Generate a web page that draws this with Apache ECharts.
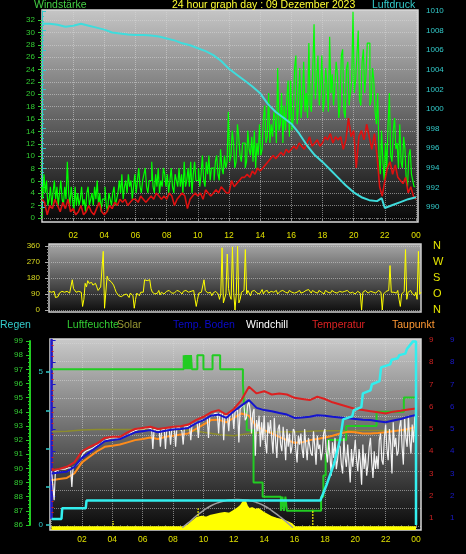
<!DOCTYPE html>
<html><head><meta charset="utf-8">
<script src="https://cdn.jsdelivr.net/npm/echarts@6/dist/echarts.min.js"></script>
<style>html,body{margin:0;padding:0;background:#000}#c{width:466px;height:554px}</style>
</head><body><div id="c"></div>
<script>
// ---------- tick labels ----------
const timeTickLabels = ['', '02','04','06','08','10','12','14','16','18','20','22','00'];
const dirLabels = ['N','O','S','W','N'];

// ---------- top panel ----------
// wind gust, 5-min steps
const windGust = [
 5,3,7,4,6,2,3,5,2,4,6,3,  5,2,4,6,3,2,5,3,9,4,2,5,  3,1,5,2,4,2,3,5,2,3,1,4,  5,2,3,4,2,5,3,6,2,4,1,3,
 3,5,2,1,4,3,2,4,5,2,3,4,  6,4,7,3,5,6,4,7,5,6,3,5,  7,4,6,8,5,4,6,7,8,5,4,6,  6,9,5,4,7,5,8,4,6,5,8,7,
 5,7,4,6,8,5,4,7,6,5,8,5,  7,4,9,5,6,8,5,9,4,7,9,6,  6,8,5,7,10,6,5,9,7,10,6,8,  8,6,9,10,7,6,11,8,7,10,8,9,
 17,9,10,14,12,8,9,15,13,10,9,12,  12,8,9,14,11,10,13,9,14,8,12,10,  15,10,11,16,18,12,13,20,12,15,13,17,  16,12,24,14,15,20,12,18,14,19,22,13,
 22,14,16,24,26,15,18,24,16,19,25,17,  20,16,28,18,17,24,31,19,22,26,18,21,  26,17,19,24,21,17,29,20,23,18,21,25,  23,16,18,26,27,17,16,24,25,18,20,22,
 33,20,22,26,30,19,18,25,27,20,23,28,  28,18,19,24,22,17,15,20,10,7,14,9,  6,12,8,15,20,10,9,14,16,11,12,8,  15,9,8,13,11,6,5,10,11,7,6,5,  5];
// wind average, 10-min steps
const windAvg = [
 3,2.5,0.5,2,1.5,3, 2,1,2.5,1.5,3,1, 1.5,0.5,1,2,0.5,1, 2,1,0.5,1.5,2.5,1, 0.5,1,2,1.5,2.5,2, 3,2.5,3,2,2.5,3,
 3,2.5,3.5,3,2.5,3, 3.5,3,4,3.5,3,3.5, 3,4,3.5,2,3,3.5, 4,3.5,1.5,3,3.5,4, 3.5,4,3,4.5,4,3.5, 4,4.5,4,5,4.5,4,
 4,6,5,5.5,6,6.5, 6.5,7,6.5,7.5,7,8, 7.5,8,8.5,9,9.5,10, 9.5,10,10.5,10,11,10.5, 11,11.5,11,12,11.5,11, 12,13,11.5,12,12.5,11.5,
 12,13,12.5,13.5,12,13, 12.5,13,11,12.5,16,13, 14,8,13,14,12.5,15, 13,11,13.5,10,5,3.5, 6,8,9,7,8.5,6.5, 6,5.5,6.5,4,5,3.5, 3];
const pressTimes = [0,0.5,1,1.5,2,2.5,3,3.5,4,4.5,5,5.5,6,6.5,7,7.5,8,8.5,9,9.5,10,10.5,11,11.5,12,12.5,13,13.5,14,14.5,15,15.5,16,16.5,17,17.5,18,18.5,19,19.5,20,20.5,21,21.5,21.8,22,22.5,23,23.5,24];
const pressValues = [1008.7,1008.7,1008.6,1008.4,1008.5,1008.7,1008.5,1008.3,1008.1,1007.8,1007.7,1007.6,1007.55,1007.55,1007.5,1007.4,1007.2,1007.0,1006.7,1006.5,1006.2,1005.9,1005.5,1004.9,1004.1,1003.5,1002.9,1002.3,1001.6,1000.5,999.7,999.1,998.5,997.5,996.3,995.3,994.6,993.8,993.0,992.2,991.5,991.0,990.7,990.6,990.9,989.9,990.2,990.5,990.8,991.0];

// ---------- middle panel: wind direction, 5-min steps ----------
const windDir = [
 105,110,100,95,105,70,60,75,95,100,105,110,  100,95,105,110,95,100,170,120,110,100,95,105,  95,100,20,60,150,130,165,150,160,155,140,150,  150,130,110,120,130,140,330,10,5,190,170,160,
 160,150,140,120,100,95,80,90,75,70,85,95,  90,85,70,95,85,80,10,60,95,85,80,100,  90,100,170,165,165,170,170,120,100,95,90,100,  95,110,85,100,100,90,90,105,95,110,100,95,
 105,95,90,110,100,105,95,90,105,115,110,100,  100,110,105,95,110,100,20,60,95,105,100,95,  170,110,105,95,90,100,80,95,95,105,100,90,  60,90,350,40,30,90,315,120,80,60,355,100,
 0,90,360,40,60,100,95,110,340,90,110,95,  80,105,100,110,105,95,95,90,100,115,90,105,  100,110,95,100,105,110,100,95,110,90,100,105,  95,110,105,100,100,95,110,105,100,90,95,105,
 100,105,110,95,105,100,95,110,100,115,105,95,  110,100,100,95,95,110,105,100,100,90,110,105,  100,105,95,110,105,100,110,95,100,105,110,100,  95,105,100,110,110,95,105,100,100,90,95,105,
 100,95,0,100,105,110,110,95,100,105,95,100,  105,95,100,110,110,100,0,90,95,105,100,110,  250,100,90,100,105,95,110,60,20,90,100,105,  340,60,100,90,110,95,90,80,100,60,330,90,  100];

// ---------- bottom panel ----------
const tempValues = [3.15,3.2,3.3,3.5,4.0,4.2,4.35,4.6,4.65,4.65,4.85,5.0,5.05,5.1,5.0,5.05,5.1,5.12,5.2,5.4,5.55,5.75,5.85,5.65,5.9,6.3,6.9,6.6,6.7,6.55,6.6,6.55,6.4,6.35,6.3,6.45,6.35,6.2,6.1,6.0,5.9,5.85,5.8,5.75,5.7,5.78,5.82,5.88,5.92];
const soilValues = [3.0,3.05,3.08,3.3,3.7,3.95,4.2,4.45,4.5,4.55,4.7,4.85,4.9,4.95,4.85,4.92,4.98,5.0,5.05,5.25,5.4,5.6,5.65,5.5,5.8,6.05,6.3,5.95,5.85,5.8,5.72,5.65,5.5,5.52,5.55,5.62,5.6,5.55,5.52,5.48,5.45,5.42,5.4,5.35,5.3,5.38,5.45,5.55,5.63];
const dewValues = [2.7,2.75,2.8,3.0,3.5,3.75,4.0,4.2,4.25,4.3,4.4,4.5,4.55,4.62,4.55,4.65,4.7,4.75,4.8,5.0,5.2,5.4,5.42,5.3,5.5,5.7,5.6,5.1,4.95,4.8,4.65,4.5,4.38,4.4,4.5,4.55,4.62,4.7,4.8,4.88,4.85,4.8,4.8,4.82,4.85,4.9,4.95,5.0,5.1];
// wind chill, 5-min steps
const windChill = [
 3.1,3.1,1.8,3.1,3.1,3.15,3.15,3.2,3.2,3.2,3.2,3.2,  3.25,3.25,3.25,3.25,2.4,3.3,3.35,3.35,3.4,3.45,3.5,3.6,
 3.8,3.9,3.95,4.0,4.05,4.05,4.1,4.1,4.15,4.15,4.2,4.25,  4.3,4.3,4.35,4.35,4.4,4.45,4.5,4.5,4.55,4.55,4.55,4.6,
 4.6,4.6,4.6,4.6,4.6,4.55,4.55,4.6,4.6,4.65,4.7,4.7,  4.75,4.75,4.8,4.85,4.9,4.9,4.95,4.95,4.95,5.0,5.0,5.0,
 5.0,5.0,5.0,5.05,5.05,5.05,5.05,5.0,4.1,5.0,4.95,4.95,  4.9,4.95,4.2,4.95,4.95,5.0,4.1,5.0,5.0,5.0,4.3,5.0,
 5.0,5.05,4.2,5.05,5.05,5.05,5.05,4.9,4.3,5.1,5.1,5.1,  5.1,5.15,4.5,5.2,5.2,5.25,5.3,5.3,4.6,5.35,5.35,5.4,
 5.4,5.45,5.45,5.5,4.6,5.55,5.6,5.6,5.65,5.7,5.7,5.7,  4.8,5.7,5.75,5.75,4.5,5.6,5.55,5.6,4.9,5.7,5.7,5.75,
 5.0,5.8,5.8,5.85,4.4,5.9,6.0,6.05,6.1,5.4,5.5,6.1,  6.2,5.8,4.8,5.7,5.9,3.8,5.4,4.9,5.6,4.2,5.3,4.5,
 5.6,4.4,3.9,5.3,4.8,5.4,4.6,3.9,5.5,4.5,3.7,5.0,  5.2,4.3,4.0,5.1,4.5,3.6,5.0,4.2,4.8,3.9,4.2,5.0,
 4.9,4.1,3.5,4.7,4.3,4.8,4.1,3.7,5.0,4.2,3.6,4.6,  4.6,3.9,3.8,4.9,4.2,3.4,4.7,4.1,4.3,3.6,4.0,4.8,
 5.0,4.0,3.5,4.5,3.8,2.9,4.4,3.7,4.6,3.2,3.6,4.3,  4.2,3.4,3.0,4.6,3.7,3.3,4.3,3.5,2.6,4.1,3.3,3.9,
 4.5,3.6,3.1,4.1,3.5,2.5,4.3,3.2,3.9,2.9,3.4,4.2,  4.6,3.5,2.8,4.0,3.2,3.8,3.2,4.5,4.8,3.6,3.4,4.6,
 5.2,4.1,3.6,5.0,4.3,3.0,5.3,4.2,4.6,3.8,4.0,5.1,  5.4,4.2,3.4,5.5,4.6,4.2,5.6,4.5,3.9,5.2,4.4,5.5,  5.8];
const solarLineValues = [4.88,4.9,4.95,4.98,4.98,4.98,4.98,4.97,4.96,4.96,4.85,4.75,4.7,4.8,4.85,4.88,4.88,4.9,4.92,4.92,4.93,4.93,4.93,4.92,4.92];
const humTimes = [0,8.7,8.76,8.82,8.88,8.94,9.0,9.06,9.12,9.18,9.24,9.6,10.0,10.6,11.1,12.6,12.7,12.85,13.3,13.9,15.1,15.2,15.3,15.4,15.5,17.75,17.9,18.05,18.2,19.4,21.4,23.2,24];
const humValues = [97,98,97,98,97,98,97,98,97,98,97,98,97,98,97,96,94,92.7,89,88,87,88,87,88,87,88,89.5,91,92,93,94,95,95];
const rainTimes = [0,0.65,0.7,2.25,2.3,17.7,18.1,18.6,19.0,19.2,19.8,19.9,20.4,20.5,21.0,21.1,21.6,21.7,22.3,22.4,22.8,22.9,23.3,23.4,23.8,24.0,24.0];
const rainValues = [0.2,0.2,0.55,0.55,0.8,0.8,1.3,2.0,2.8,3.45,3.55,3.75,3.85,4.3,4.4,4.6,4.7,5.15,5.25,5.4,5.45,5.55,5.6,5.75,6.0,6.0,0];
const solarTimes = [0,8.7,9.0,9.3,9.6,9.9,10.2,10.5,10.8,11.1,11.4,11.7,12.0,12.3,12.5,12.7,12.85,13.0,13.2,13.4,13.6,13.9,14.2,14.5,14.8,15.2,15.5,15.8,16.0,24];
const solarValues = [0,0,10,30,50,55,50,60,65,70,75,70,85,100,115,140,110,95,100,90,95,78,65,52,45,37,28,16,0,0];
const solarMaxTimes = [8.6,9.0,9.5,10.0,10.5,11.0,11.5,12.2,13.0,13.5,14.0,14.5,15.0,15.5,15.9];
const solarMaxValues = [0,25,60,90,115,132,143,148,143,132,115,90,60,28,0];
const markerTimes = [4.05,9.65,17.2];
const markerTops = [35,100,95];

// ---------- helpers ----------
const fiveMin = vals => vals.map((v,i)=>[i/12, v]);
const tenMin = vals => vals.map((v,i)=>[i/6, v]);
const halfHour = vals => vals.map((v,i)=>[i*0.5, v]);
const hourly = vals => vals.map((v,i)=>[i, v]);
const zip = (ts, vs) => ts.map((t,i)=>[t, vs[i]]);

const FONT = '"Liberation Sans", Arial, sans-serif';
const NARROW = '"Liberation Sans Narrow", "Liberation Sans", sans-serif';
const DOT = {type:'dotted', color:'rgba(215,215,215,0.55)', width:1};
const grad = (a,b)=>({type:'linear',x:0,y:0,x2:0,y2:1,colorStops:[{offset:0,color:a},{offset:1,color:b}]});

function hiddenX(g){ return {gridIndex:g, type:'value', min:0, max:24, show:false}; }
function lbl(color, margin){ return {color, fontSize:8, fontFamily:NARROW, margin, formatter:v=>String(v)}; }

const chart = echarts.init(document.getElementById('c'));
const line = (o) => Object.assign({type:'line', symbol:'none', animation:false, silent:true}, o);

const series = [
  line({xAxisIndex:0, yAxisIndex:0, data:fiveMin(windGust), step:'middle', lineStyle:{color:'#00ff00', width:1.2}, z:2}),
  line({xAxisIndex:0, yAxisIndex:0, data:tenMin(windAvg), lineStyle:{color:'#dd1111', width:1.6}, z:3}),
  line({xAxisIndex:0, yAxisIndex:1, data:zip(pressTimes, pressValues), lineStyle:{color:'#3fdcdc', width:2}, z:4}),
  line({xAxisIndex:3, yAxisIndex:4, data:fiveMin(windDir), lineStyle:{color:'#ffff00', width:1}, z:3}),
  // bottom
  line({xAxisIndex:4, yAxisIndex:6, data:hourly(solarLineValues), lineStyle:{color:'#8c8c2c', width:1.5}, z:2}),
  line({xAxisIndex:4, yAxisIndex:9, data:zip(solarTimes, solarValues), lineStyle:{color:'#ffff00', width:3}, areaStyle:{color:'#ffff00', opacity:1, origin:'start'}, z:3}),
  line({xAxisIndex:4, yAxisIndex:9, data:zip(solarMaxTimes, solarMaxValues), smooth:true, lineStyle:{color:'#a0a0a0', width:1.5}, z:3}),
  line({xAxisIndex:4, yAxisIndex:7, data:zip(humTimes, humValues), step:'end', lineStyle:{color:'#22cc22', width:2}, z:4}),
  line({xAxisIndex:4, yAxisIndex:6, data:halfHour(dewValues), lineStyle:{color:'#ff8c1a', width:2}, z:5}),
  line({xAxisIndex:4, yAxisIndex:6, data:fiveMin(windChill), lineStyle:{color:'#f2f2f2', width:1.2}, z:6}),
  line({xAxisIndex:4, yAxisIndex:6, data:halfHour(soilValues), lineStyle:{color:'#1414d0', width:2}, z:7}),
  line({xAxisIndex:4, yAxisIndex:6, data:halfHour(tempValues), lineStyle:{color:'#dd2020', width:2}, z:8}),
  line({xAxisIndex:4, yAxisIndex:8, data:zip(rainTimes, rainValues), lineStyle:{color:'#33eeee', width:2.5}, z:9})
];
markerTimes.forEach((t,i)=>{
  series.push(line({xAxisIndex:4, yAxisIndex:9, data:[[t,0],[t,markerTops[i]]], lineStyle:{color:'#ffff00', width:1.5, type:'dotted'}, z:4}));
});

const option = {
  backgroundColor:'#000',
  animation:false,
  grid:[
    {left:42, top:10, width:374, height:212},      // 0 top data
    {left:42, top:20, width:374, height:198},      // 1 wind labels
    {left:42, top:11, width:376, height:196},      // 2 pressure labels
    {left:49, top:246, width:372, height:64},      // 3 direction
    {left:51.6, top:339, width:364.4, height:191}, // 4 bottom data
    {left:50, top:343.3, width:371, height:183.4}, // 5 bottom h-grid
    {left:30, top:341, width:386, height:184},     // 6 humidity labels
    {left:50, top:372, width:366, height:153},     // 7 rain labels
    {left:51.6, top:340, width:369.4, height:178}, // 8 temp labels (red)
    {left:51.6, top:340, width:391.4, height:178}  // 9 temp labels (blue)
  ],
  xAxis:[
    {gridIndex:0, type:'value', min:0, max:24, interval:2,
     axisLine:{show:false}, axisTick:{show:true, length:3, lineStyle:{color:'#888'}},
     minorTick:{show:true, splitNumber:4, length:2, lineStyle:{color:'#666'}},
     axisLabel:{color:'#e0e000', fontSize:8.5, fontFamily:NARROW, margin:9, formatter:v=>timeTickLabels[Math.round(v/2)]||''},
     splitLine:{show:true, lineStyle:DOT}},
    hiddenX(1), hiddenX(2),
    {gridIndex:3, type:'value', min:0, max:24, show:true, axisLine:{show:false}, axisTick:{show:false}, axisLabel:{show:false}, splitLine:{show:false}},
    {gridIndex:4, type:'value', min:0, max:24, interval:2,
     axisLine:{show:false}, axisTick:{show:true, length:3, lineStyle:{color:'#888'}},
     minorTick:{show:true, splitNumber:4, length:2, lineStyle:{color:'#666'}},
     axisLabel:{color:'#e0e000', fontSize:8.5, fontFamily:NARROW, margin:5, formatter:v=>timeTickLabels[Math.round(v/2)]||''},
     splitLine:{show:true, lineStyle:DOT}},
    hiddenX(5), hiddenX(6), hiddenX(7), hiddenX(8), hiddenX(9)
  ],
  yAxis:[
    {gridIndex:0, type:'value', min:-0.646, max:33.29, show:false},           // 0 wind data
    {gridIndex:0, type:'value', min:988.47, max:1010.1, show:false},         // 1 pressure data
    {gridIndex:1, type:'value', min:0, max:32, interval:2, position:'left',  // 2 wind labels
     axisLine:{show:true, lineStyle:{color:'#33cc33', width:1}},
     axisTick:{show:true, length:4, lineStyle:{color:'#33cc33'}},
     minorTick:{show:true, splitNumber:4, length:2, lineStyle:{color:'#33cc33'}},
     axisLabel:lbl('#33cc33', 7), splitLine:{show:true, lineStyle:DOT}},
    {gridIndex:2, type:'value', min:990, max:1010, interval:2, position:'right', // 3 pressure labels
     axisLine:{show:true, lineStyle:{color:'#33cccc', width:1}},
     axisTick:{show:true, length:4, lineStyle:{color:'#33cccc'}},
     minorTick:{show:true, splitNumber:4, length:2, lineStyle:{color:'#33cccc'}},
     axisLabel:lbl('#33cccc', 8), splitLine:{show:false}},
    {gridIndex:3, type:'value', min:0, max:360, interval:90, position:'left', offset:2, // 4 direction
     axisLine:{show:true, lineStyle:{color:'#999', width:1}},
     axisTick:{show:true, length:4, lineStyle:{color:'#aaa'}},
     minorTick:{show:true, splitNumber:5, length:2, lineStyle:{color:'#888'}},
     axisLabel:lbl('#dada20', 7), splitLine:{show:true, lineStyle:DOT}},
    {gridIndex:3, type:'value', min:0, max:360, interval:90, position:'right', // 5 NWSON
     axisLine:{show:false}, axisTick:{show:false}, splitLine:{show:false},
     axisLabel:{color:'#e6e600', fontSize:11, fontFamily:FONT, margin:12, formatter:v=>dirLabels[Math.round(v/90)]}},
    {gridIndex:4, type:'value', min:0.461, max:9.045, show:false},   // 6 temp data
    {gridIndex:4, type:'value', min:85.647, max:99.141, show:false}, // 7 humidity data
    {gridIndex:4, type:'value', min:-0.163, max:6.078, show:false},  // 8 rain data
    {gridIndex:4, type:'value', min:-12, max:988, show:false},       // 9 solar data
    {gridIndex:5, type:'value', min:0, max:10, interval:1,           // 10 h-grid helper
     axisLine:{show:false}, axisTick:{show:false}, axisLabel:{show:false}, splitLine:{show:true, lineStyle:DOT}},
    {gridIndex:6, type:'value', min:86, max:99, interval:1, position:'left', // 11 humidity labels
     axisLine:{show:true, lineStyle:{color:'#22cc22', width:2}},
     axisTick:{show:true, length:4, lineStyle:{color:'#22cc22'}},
     minorTick:{show:true, splitNumber:4, length:2, lineStyle:{color:'#22cc22'}},
     axisLabel:lbl('#33cc33', 7), splitLine:{show:false}},
    {gridIndex:7, type:'value', min:0, max:5, interval:1.25, position:'left', // 12 rain labels
     axisLine:{show:false}, axisTick:{show:true, length:4, lineStyle:{color:'#33cccc', width:1.5}},
     axisLabel:Object.assign(lbl('#33cccc', 7), {formatter:v=>(v===0||v===5)?String(v):''}), splitLine:{show:false}},
    {gridIndex:8, type:'value', min:1, max:9, interval:1, position:'right', // 13 red labels
     axisLine:{show:true, lineStyle:{color:'#cc2222', width:1.5, type:'dotted'}},
     axisTick:{show:true, length:3, lineStyle:{color:'#cc2222'}},
     minorTick:{show:true, splitNumber:4, length:2, lineStyle:{color:'#cc2222'}},
     axisLabel:lbl('#cc2222', 8), splitLine:{show:false}},
    {gridIndex:9, type:'value', min:1, max:9, interval:1, position:'right', // 14 blue labels
     axisLine:{show:true, lineStyle:{color:'#1a1acc', width:2.5}},
     axisTick:{show:true, length:4, lineStyle:{color:'#1a1acc'}},
     axisLabel:lbl('#1a1acc', 7), splitLine:{show:false}}
  ],
  graphic:{elements:[
    {type:'rect', z:-5, shape:{x:42, y:10, width:376, height:212}, style:{fill:grad('#c6c6c6','#050505'), stroke:'#d8d8d8', lineWidth:1.5}},
    {type:'rect', z:-5, shape:{x:49, y:244, width:372, height:68}, style:{fill:grad('#a8a8a8','#0c0c0c'), stroke:'#d0d0d0', lineWidth:1.5}},
    {type:'rect', z:-5, shape:{x:50, y:339, width:371, height:191}, style:{fill:grad('#cacaca','#080808'), stroke:'#d8d8d8', lineWidth:1.5}},
    {type:'text', left:34, top:0, z:50, style:{text:'Windstärke', fill:'#44d044', font:'10.5px '+FONT}},
    {type:'text', left:172, top:0, z:50, style:{text:'24 hour graph day : 09 Dezember 2023', fill:'#ffff33', font:'10.5px '+FONT}},
    {type:'text', left:372, top:0, z:50, style:{text:'Luftdruck', fill:'#33cccc', font:'10.5px '+FONT}},
    {type:'text', left:0, top:320, z:50, style:{text:'Regen', fill:'#33cccc', font:'10.5px '+FONT}},
    {type:'text', left:67, top:320, z:50, style:{text:'Luftfeuchte', fill:'#33cc33', font:'10.5px '+FONT}},
    {type:'text', left:117, top:320, z:50, style:{text:'Solar', fill:'#999933', font:'10.5px '+FONT}},
    {type:'text', left:173, top:320, z:50, style:{text:'Temp. Boden', fill:'#0a0acc', font:'10.5px '+FONT}},
    {type:'text', left:246, top:320, z:50, style:{text:'Windchill', fill:'#ffffff', font:'10.5px '+FONT}},
    {type:'text', left:312, top:320, z:50, style:{text:'Temperatur', fill:'#dd2222', font:'10.5px '+FONT}},
    {type:'text', left:392, top:320, z:50, style:{text:'Taupunkt', fill:'#ff9933', font:'10.5px '+FONT}}
  ]},
  series
};
chart.setOption(option);
</script></body></html>
